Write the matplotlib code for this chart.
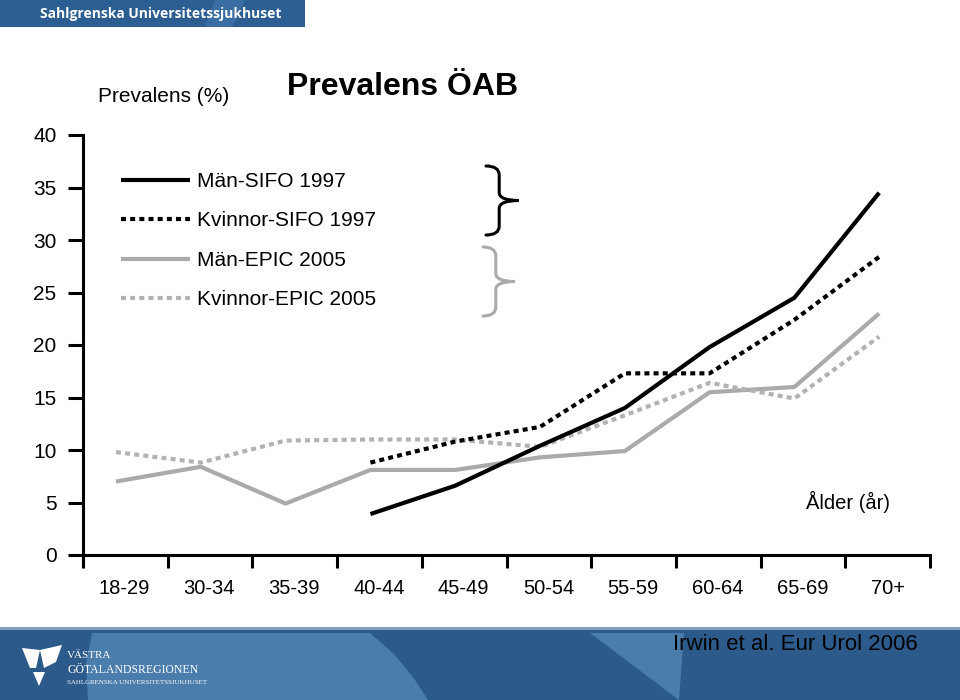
import numpy as np
import matplotlib
matplotlib.use("Agg")
import matplotlib.pyplot as plt
from matplotlib.patches import Rectangle, Polygon, PathPatch
from matplotlib.path import Path

plt.rcParams['font.family'] = ['Liberation Sans', 'DejaVu Sans']

# ---- data ----
age_groups = ["18-29", "30-34", "35-39", "40-44", "45-49", "50-54",
              "55-59", "60-64", "65-69", "70+"]
man_sifo_1997 = [np.nan, np.nan, np.nan, 3.9, 6.6, 10.4, 14.0, 19.8, 24.5, 34.5]
kvinnor_sifo_1997 = [np.nan, np.nan, np.nan, 8.8, 10.8, 12.2, 17.3, 17.3, 22.4, 28.4]
man_epic_2005 = [7.0, 8.4, 4.9, 8.1, 8.1, 9.3, 9.9, 15.5, 16.0, 23.0]
kvinnor_epic_2005 = [9.8, 8.8, 10.9, 11.0, 11.0, 10.3, 13.3, 16.4, 14.9, 20.8]
y_ticks = [0, 5, 10, 15, 20, 25, 30, 35, 40]

W, H = 960, 700
fig = plt.figure(figsize=(9.6, 7), dpi=100)
fig.patch.set_facecolor('white')


def fx(x):
    return x / W


def fy(y):
    return 1 - y / H


# ---- header band ----
fig.patches.append(Rectangle((0, fy(27)), fx(305), 27 / H, transform=fig.transFigure,
                             facecolor='#2c5e92', edgecolor='none', zorder=0))
fig.patches.append(Polygon([(fx(215), fy(0)), (fx(245), fy(0)), (fx(232), fy(27)), (fx(205), fy(27))],
                           closed=True, transform=fig.transFigure, facecolor='#3a6ea3',
                           edgecolor='none', zorder=0))
fig.text(fx(40), fy(14), "Sahlgrenska Universitetssjukhuset", color='white',
         fontsize=10, fontweight='bold', family=['Open Sans', 'DejaVu Sans'],
         ha='left', va='center')

# ---- footer band ----
fig.patches.append(Rectangle((0, 0), 1, 73 / H, transform=fig.transFigure,
                             facecolor='#2b5a8b', edgecolor='none', zorder=0))
fig.patches.append(Rectangle((0, fy(630)), 1, 3 / H, transform=fig.transFigure,
                             facecolor='#7f9fbf', edgecolor='none', zorder=0))
light = '#4a7dac'
fig.patches.append(Polygon([(fx(92), fy(633)), (fx(370), fy(633)), (fx(395), fy(655)),
                            (fx(415), fy(680)), (fx(428), fy(700)), (fx(88), fy(700)),
                            (fx(86), fy(665))],
                           closed=True, transform=fig.transFigure, facecolor=light,
                           edgecolor='none', zorder=0))
fig.patches.append(Polygon([(fx(590), fy(633)), (fx(684), fy(633)), (fx(679), fy(700))],
                           closed=True, transform=fig.transFigure, facecolor=light,
                           edgecolor='none', zorder=0))
# logo
fig.patches.append(Polygon([(fx(22), fy(648)), (fx(40), fy(650)), (fx(36), fy(668)), (fx(30), fy(668))],
                           closed=True, transform=fig.transFigure, facecolor='white',
                           edgecolor='none', zorder=1))
fig.patches.append(Polygon([(fx(40), fy(650)), (fx(62), fy(645)), (fx(56), fy(662)), (fx(44), fy(668))],
                           closed=True, transform=fig.transFigure, facecolor='white',
                           edgecolor='none', zorder=1))
fig.patches.append(Polygon([(fx(33), fy(672)), (fx(45), fy(672)), (fx(39), fy(686))],
                           closed=True, transform=fig.transFigure, facecolor='white',
                           edgecolor='none', zorder=1))
fig.text(fx(67), fy(656), "VÄSTRA", color='white', fontsize=8,
         family=['Liberation Serif', 'DejaVu Serif'], ha='left', va='center')
fig.text(fx(67), fy(670), "GÖTALANDSREGIONEN", color='white', fontsize=8.5,
         family=['Liberation Serif', 'DejaVu Serif'], ha='left', va='center')
fig.text(fx(67), fy(682), "SAHLGRENSKA UNIVERSITETSSJUKHUSET", color='white', fontsize=5,
         family=['Liberation Serif', 'DejaVu Serif'], ha='left', va='center')
fig.text(fx(918), fy(645), "Irwin et al. Eur Urol 2006", color='black', fontsize=16,
         ha='right', va='center')

# ---- axes ----
ax = fig.add_axes([fx(83), fy(565.5), 847 / W, 430.5 / H])
ax.set_facecolor('none')
xmin, xmax = -0.389, 9.599
ax.set_xlim(xmin, xmax)
ax.set_ylim(-1, 40)

x = np.arange(len(age_groups))
black = '#000000'
grey = '#aaaaaa'
lw = 3.0
ax.plot(x, man_sifo_1997, color=black, lw=lw, solid_capstyle='butt', label='Män-SIFO 1997', zorder=4)
ax.plot(x, kvinnor_sifo_1997, color=black, lw=lw, linestyle=(0, (1.2, 1.0)),
        dash_capstyle='butt', label='Kvinnor-SIFO 1997', zorder=4)
ax.plot(x, man_epic_2005, color=grey, lw=lw, solid_capstyle='butt', label='Män-EPIC 2005', zorder=3)
ax.plot(x, kvinnor_epic_2005, color='#b2b2b2', lw=lw, linestyle=(0, (1.2, 1.0)),
        dash_capstyle='butt', label='Kvinnor-EPIC 2005', zorder=3)

for s in ['top', 'right']:
    ax.spines[s].set_visible(False)
ax.spines['bottom'].set_position(('data', 0))
ax.spines['left'].set_linewidth(2.2)
ax.spines['bottom'].set_linewidth(2.2)

ax.set_yticks(y_ticks)
ax.set_yticklabels([str(v) for v in y_ticks])
ax.tick_params(axis='y', direction='out', length=11, width=2.2, pad=8, labelsize=15)

ax.set_xticks(np.linspace(xmin, xmax, 11))
ax.set_xticklabels([])
ax.tick_params(axis='x', which='major', direction='out', length=9, width=2.2)
ax.set_xticks(x + 0.1, minor=True)
ax.set_xticklabels(age_groups, minor=True)
ax.tick_params(axis='x', which='minor', length=0, pad=17.5, labelsize=14.5)

# legend
ax.legend(loc='upper left', bbox_to_anchor=(fx(121), fy(172)), bbox_transform=fig.transFigure,
          frameon=False, fontsize=15, handlelength=3.3, handletextpad=0.35,
          labelspacing=0.98, borderpad=0, borderaxespad=0)


# braces
def brace(x0, ytop, ybot, depth, color):
    xm = x0 + depth * 0.4
    ymid = (ytop + ybot) / 2
    tip = x0 + depth
    pts = [(x0, ytop), (xm, ytop), (xm, ytop + 9),
           (xm, ymid - 8),
           (xm, ymid), (tip, ymid),
           (xm, ymid), (xm, ymid + 8),
           (xm, ybot - 9),
           (xm, ybot), (x0, ybot)]
    codes = [Path.MOVETO, Path.CURVE3, Path.CURVE3, Path.LINETO,
             Path.CURVE3, Path.CURVE3, Path.CURVE3, Path.CURVE3,
             Path.LINETO, Path.CURVE3, Path.CURVE3]
    verts = [(fx(a), fy(b)) for a, b in pts]
    fig.patches.append(PathPatch(Path(verts, codes), transform=fig.transFigure,
                                 facecolor='none', edgecolor=color, lw=2.2,
                                 capstyle='round', zorder=5))


brace(486, 166, 235, 33, 'black')
brace(483, 247, 316, 32, grey)

# texts
fig.text(fx(98), fy(96), "Prevalens (%)", fontsize=15, ha='left', va='center')
fig.text(fx(287), fy(87), "Prevalens ÖAB", fontsize=23, fontweight='bold', ha='left', va='center')
fig.text(fx(890), fy(502), "Ålder (år)", fontsize=14.5, ha='right', va='center')

fig.savefig('out.png', dpi=100)
